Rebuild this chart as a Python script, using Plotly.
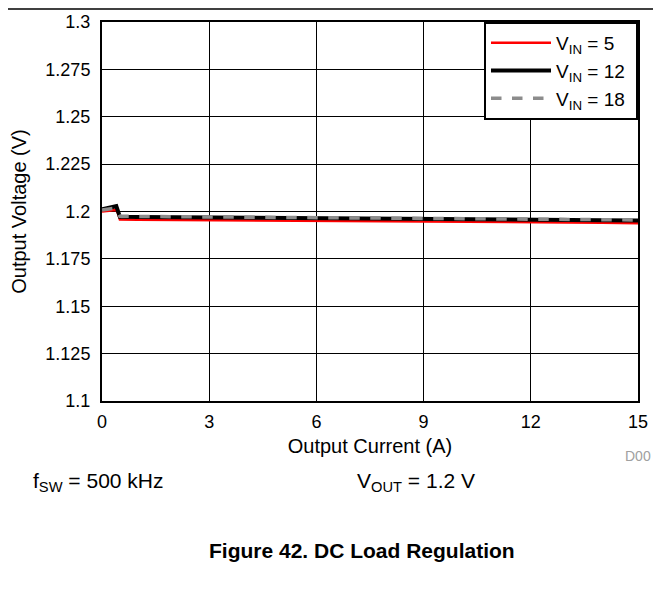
import plotly.graph_objects as go

# output current (A)
current = [0, 0.1, 0.2, 0.3, 0.4, 0.45, 0.5, 1, 2, 3, 4, 5, 6, 7, 8, 9, 10, 11, 12, 13, 14, 15]
# output voltage (V) for each input voltage
vout_vin5 = [1.2000, 1.2001, 1.2004, 1.2007, 1.2008, 1.1990, 1.1958, 1.1957, 1.1956, 1.1955, 1.1954,
             1.1953, 1.1952, 1.1951, 1.1950, 1.1949, 1.1947, 1.1946, 1.1944, 1.1942, 1.1940, 1.1938]
vout_vin12 = [1.2012, 1.2015, 1.2020, 1.2025, 1.2028, 1.2000, 1.1972, 1.1971, 1.1970, 1.1969, 1.1968,
              1.1967, 1.1966, 1.1965, 1.1964, 1.1963, 1.1961, 1.1960, 1.1958, 1.1956, 1.1954, 1.1952]
vout_vin18 = [1.2008, 1.2011, 1.2014, 1.2016, 1.2014, 1.1995, 1.1975, 1.1974, 1.1973, 1.1972, 1.1971,
              1.1970, 1.1969, 1.1968, 1.1967, 1.1966, 1.1964, 1.1963, 1.1961, 1.1959, 1.1957, 1.1955]

x_ticks = [0, 3, 6, 9, 12, 15]
y_ticks = [1.1, 1.125, 1.15, 1.175, 1.2, 1.225, 1.25, 1.275, 1.3]
y_labels = ['1.1', '1.125', '1.15', '1.175', '1.2', '1.225', '1.25', '1.275', '1.3']

font = 'Liberation Sans, Arial, sans-serif'

fig = go.Figure()
fig.add_trace(go.Scatter(x=current, y=vout_vin5, mode='lines', name='V<sub>IN</sub> = 5&nbsp;',
                         line=dict(color='#ff0000', width=2.5)))
fig.add_trace(go.Scatter(x=current, y=vout_vin12, mode='lines', name='V<sub>IN</sub> = 12&nbsp;',
                         line=dict(color='black', width=4)))
fig.add_trace(go.Scatter(x=current, y=vout_vin18, mode='lines', name='V<sub>IN</sub> = 18&nbsp;',
                         line=dict(color='#8c8c8c', width=3.5, dash='dash')))

# the page body adds an 8px margin, so the figure is sized/placed to compensate
W, H = 653, 586
L, R, T, B = 94, 23, 14, 193
pw, ph = W - L - R, H - T - B


def px(x):
    return (x - L) / pw


def py(y):
    return (T + ph - y) / ph


fig.update_layout(
    width=W, height=H,
    margin=dict(l=L, r=R, t=T, b=B, autoexpand=False),
    plot_bgcolor='white', paper_bgcolor='white',
    font=dict(family=font, size=18, color='black'),
    showlegend=True,
    legend=dict(x=1, y=1, xanchor='right', yanchor='top',
                bgcolor='white', bordercolor='black', borderwidth=2,
                font=dict(size=19), itemwidth=60, tracegroupgap=0),
    xaxis=dict(range=[0, 15], tickvals=x_ticks, showgrid=True, gridcolor='black', gridwidth=1,
               zeroline=False, showline=True, linecolor='black', linewidth=2, mirror=True,
               ticks='', automargin=False, tickfont=dict(size=18), ticklabelstandoff=3,
               title=dict(text='Output Current (A)', standoff=8, font=dict(size=20))),
    yaxis=dict(range=[1.1, 1.3], tickvals=y_ticks, ticktext=y_labels, showgrid=True,
               gridcolor='black', gridwidth=1, zeroline=False, showline=True, linecolor='black',
               linewidth=2, mirror=True, ticks='', automargin=False, tickfont=dict(size=18),
               ticklabelstandoff=6,
               title=dict(text='Output Voltage (V)', standoff=14, font=dict(size=20))),
)

# rule line across the top of the page
fig.add_shape(type='line', xref='paper', yref='paper',
              x0=px(0), x1=px(W), y0=py(1), y1=py(1),
              line=dict(color='black', width=1.5))

fig.add_annotation(text='D00', xref='paper', yref='paper', x=px(W - 8), y=py(448),
                   xanchor='right', yanchor='middle', showarrow=False,
                   font=dict(size=14, color='#a0a0a0'))
fig.add_annotation(text='f<sub>SW</sub> = 500 kHz', xref='paper', yref='paper',
                   x=px(23), y=py(474), xanchor='left', yanchor='middle',
                   showarrow=False, font=dict(size=21))
fig.add_annotation(text='V<sub>OUT</sub> = 1.2 V', xref='paper', yref='paper',
                   x=px(347), y=py(474), xanchor='left', yanchor='middle',
                   showarrow=False, font=dict(size=21))
fig.add_annotation(text='<b>Figure 42. DC Load Regulation</b>', xref='paper', yref='paper',
                   x=px(354), y=py(542), xanchor='center', yanchor='middle',
                   showarrow=False, font=dict(size=21))

fig.write_html('out.html')
